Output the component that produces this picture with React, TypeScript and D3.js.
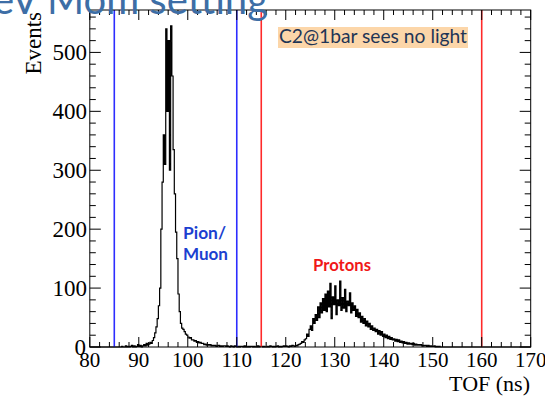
import React from "react";
import * as d3 from "d3";

// ---- data ----
const xDomain = [80, 170];
const yDomain = [0, 572];
const xMajorTicks = [80, 90, 100, 110, 120, 130, 140, 150, 160, 170];
const yMajorTicks = [0, 100, 200, 300, 400, 500];
const binWidth = 0.25;

const pionStart = 86;
const pionCounts = [
  0, 0, 1, 0, // 86
  0, 2, 0, 1, // 87
  0, 1, 3, 0, // 88
  2, 0, 1, 4, // 89
  1, 3, 0, 2, // 90
  4, 2, 6, 3, // 91
  5, 8, 6, 11, // 92
  16, 24, 34, 48, // 93
  70, 100, 200, 280, // 94
  360, 310, 540, 400, // 95
  520, 300, 545, 460, // 96
  335, 260, 195, 150, // 97
  90, 60, 40, 32, // 98
  30, 26, 22, 20, // 99
  17, 15, 16, 12, // 100
  12, 10, 11, 8, // 101
  9, 7, 8, 6, // 102
  6, 4, 5, 3, // 103
  4, 3, 4, 2, // 104
  3, 2, 3, 1, // 105
  2, 3, 1, 2, // 106
  1, 2, 2, 1, // 107
  2, 1, 0, 2, // 108
  1, 0, 2, 1, // 109
];

const protonStart = 110;
const protonCounts = [
  0, 1, 0, 1, // 110
  1, 0, 2, 0, // 111
  0, 1, 0, 1, // 112
  1, 0, 1, 0, // 113
  0, 2, 0, 1, // 114
  1, 0, 1, 0, // 115
  0, 1, 0, 2, // 116
  1, 0, 1, 0, // 117
  1, 2, 0, 1, // 118
  0, 1, 2, 1, // 119
  2, 1, 0, 2, // 120
  1, 3, 2, 1, // 121
  3, 2, 4, 5, // 122
  6, 9, 8, 12, // 123
  14, 22, 18, 30, // 124
  36, 28, 48, 40, // 125
  55, 45, 68, 50, // 126
  75, 58, 82, 62, // 127
  90, 60, 95, 68, // 128
  108, 48, 85, 72, // 129
  104, 55, 80, 70, // 130
  112, 62, 84, 66, // 131
  98, 60, 78, 70, // 132
  92, 58, 75, 62, // 133
  70, 52, 64, 50, // 134
  58, 42, 52, 40, // 135
  48, 36, 44, 34, // 136
  40, 30, 36, 28, // 137
  32, 26, 30, 22, // 138
  28, 20, 26, 18, // 139
  22, 16, 20, 14, // 140
  18, 13, 16, 12, // 141
  14, 10, 13, 9, // 142
  12, 8, 10, 7, // 143
  9, 6, 8, 5, // 144
  7, 5, 6, 4, // 145
  6, 3, 5, 3, // 146
  4, 3, 4, 2, // 147
  3, 2, 3, 1, // 148
  3, 1, 2, 1, // 149
  1, 2, 0, 1, // 150
  0, 1, 0, 0, // 151
];

const blueCuts = [85, 110];
const redCuts = [115, 160];

const titleText = "GeV Mom setting";
const noteText = "C2@1bar sees no light";
const pionLabel = ["Pion/", "Muon"];
const protonLabel = "Protons";
const yTitle = "Events";
const xTitle = "TOF (ns)";

// ---- layout ----
const W = 545;
const H = 396;
const left = 89.8;
const right = 530.7;
const top = 10;
const bottom = 347;

export default function App() {
  const x = d3.scaleLinear().domain(xDomain).range([left, right]);
  const y = d3.scaleLinear().domain(yDomain).range([bottom, top]);

  const pts: [number, number][] = [[xDomain[0], 0]];
  pionCounts.forEach((c, i) => pts.push([pionStart + i * binWidth, c]));
  protonCounts.forEach((c, i) => pts.push([protonStart + i * binWidth, c]));
  pts.push([protonStart + protonCounts.length * binWidth, 0]);
  pts.push([xDomain[1], 0]);

  const line = d3
    .line<[number, number]>()
    .x((d) => x(d[0]))
    .y((d) => y(d[1]))
    .curve(d3.curveStepAfter);

  const xMinor = d3.range(xDomain[0], xDomain[1] + 0.001, 2).filter((v) => v % 10 !== 0);
  const yMinor = d3.range(0, yDomain[1], 20).filter((v) => v % 100 !== 0);
  const yMajorAll = d3.range(0, yDomain[1], 100);

  const serif = "'Liberation Serif', 'DejaVu Serif', serif";
  const sans = "Lato, 'Open Sans', sans-serif";

  return (
    <svg
      width={W}
      height={H}
      style={{ position: "absolute", left: 0, top: 0, background: "#fff" }}
    >
      <rect x={0} y={0} width={W} height={H} fill="#fff" />
      {/* histogram */}
      <path d={line(pts) || ""} fill="none" stroke="#000" strokeWidth={1.2} />

      {/* cut lines */}
      {blueCuts.map((v) => (
        <line key={"b" + v} x1={x(v)} x2={x(v)} y1={top} y2={bottom} stroke="#2d2dff" strokeWidth={1.6} />
      ))}
      {redCuts.map((v) => (
        <line key={"r" + v} x1={x(v)} x2={x(v)} y1={top} y2={bottom} stroke="#ff2a2a" strokeWidth={1.6} />
      ))}

      {/* frame */}
      <rect x={left} y={top} width={right - left} height={bottom - top} fill="none" stroke="#000" strokeWidth={1} />

      {/* x ticks */}
      {xMajorTicks.map((v) => (
        <g key={"xm" + v}>
          <line x1={x(v)} x2={x(v)} y1={bottom} y2={bottom - 10} stroke="#000" />
          <line x1={x(v)} x2={x(v)} y1={top} y2={top + 10} stroke="#000" />
        </g>
      ))}
      {xMinor.map((v) => (
        <g key={"xn" + v}>
          <line x1={x(v)} x2={x(v)} y1={bottom} y2={bottom - 5} stroke="#000" />
          <line x1={x(v)} x2={x(v)} y1={top} y2={top + 5} stroke="#000" />
        </g>
      ))}
      {/* y ticks */}
      {yMajorAll.map((v) => (
        <g key={"ym" + v}>
          <line x1={left} x2={left + 11} y1={y(v)} y2={y(v)} stroke="#000" />
          <line x1={right} x2={right - 11} y1={y(v)} y2={y(v)} stroke="#000" />
        </g>
      ))}
      {yMinor.map((v) => (
        <g key={"yn" + v}>
          <line x1={left} x2={left + 6} y1={y(v)} y2={y(v)} stroke="#000" />
          <line x1={right} x2={right - 6} y1={y(v)} y2={y(v)} stroke="#000" />
        </g>
      ))}

      {/* tick labels */}
      {xMajorTicks.map((v) => (
        <text key={"xl" + v} x={x(v)} y={367} textAnchor="middle" fontFamily={serif} fontSize={21} fill="#000">
          {v}
        </text>
      ))}
      {yMajorTicks.map((v) => (
        <text
          key={"yl" + v}
          x={v === 0 ? 86 : 87}
          y={y(v) + 8}
          textAnchor="end"
          fontFamily={serif}
          fontSize={23}
          fill="#000"
        >
          {v}
        </text>
      ))}

      {/* axis titles */}
      <text x={530} y={391} textAnchor="end" fontFamily={serif} fontSize={22} fill="#000">
        {xTitle}
      </text>
      <text
        transform={`translate(41,${top + 2}) rotate(-90)`}
        textAnchor="end"
        fontFamily={serif}
        fontSize={23}
        fill="#000"
      >
        {yTitle}
      </text>

      {/* annotations */}
      <rect x={278} y={27} width={190} height={21} fill="#fcd6a9" />
      <text x={279} y={43} fontFamily={sans} fontSize={19} fill="#1f3556" textLength={188} lengthAdjust="spacingAndGlyphs">
        {noteText}
      </text>
      <text x={183} y={239} fontFamily={sans} fontWeight="bold" fontSize={17} fill="#1c3fd0" textLength={43} lengthAdjust="spacingAndGlyphs">
        {pionLabel[0]}
      </text>
      <text x={183} y={260} fontFamily={sans} fontWeight="bold" fontSize={17} fill="#1c3fd0" textLength={45} lengthAdjust="spacingAndGlyphs">
        {pionLabel[1]}
      </text>
      <text x={313} y={271} fontFamily={sans} fontWeight="bold" fontSize={17} fill="#f01818" textLength={58} lengthAdjust="spacingAndGlyphs">
        {protonLabel}
      </text>

      {/* title (cropped at top) */}
      <text x={268} y={14} textAnchor="end" fontFamily={sans} fontSize={40} fill="#3d6ea6">
        {titleText}
      </text>
    </svg>
  );
}
